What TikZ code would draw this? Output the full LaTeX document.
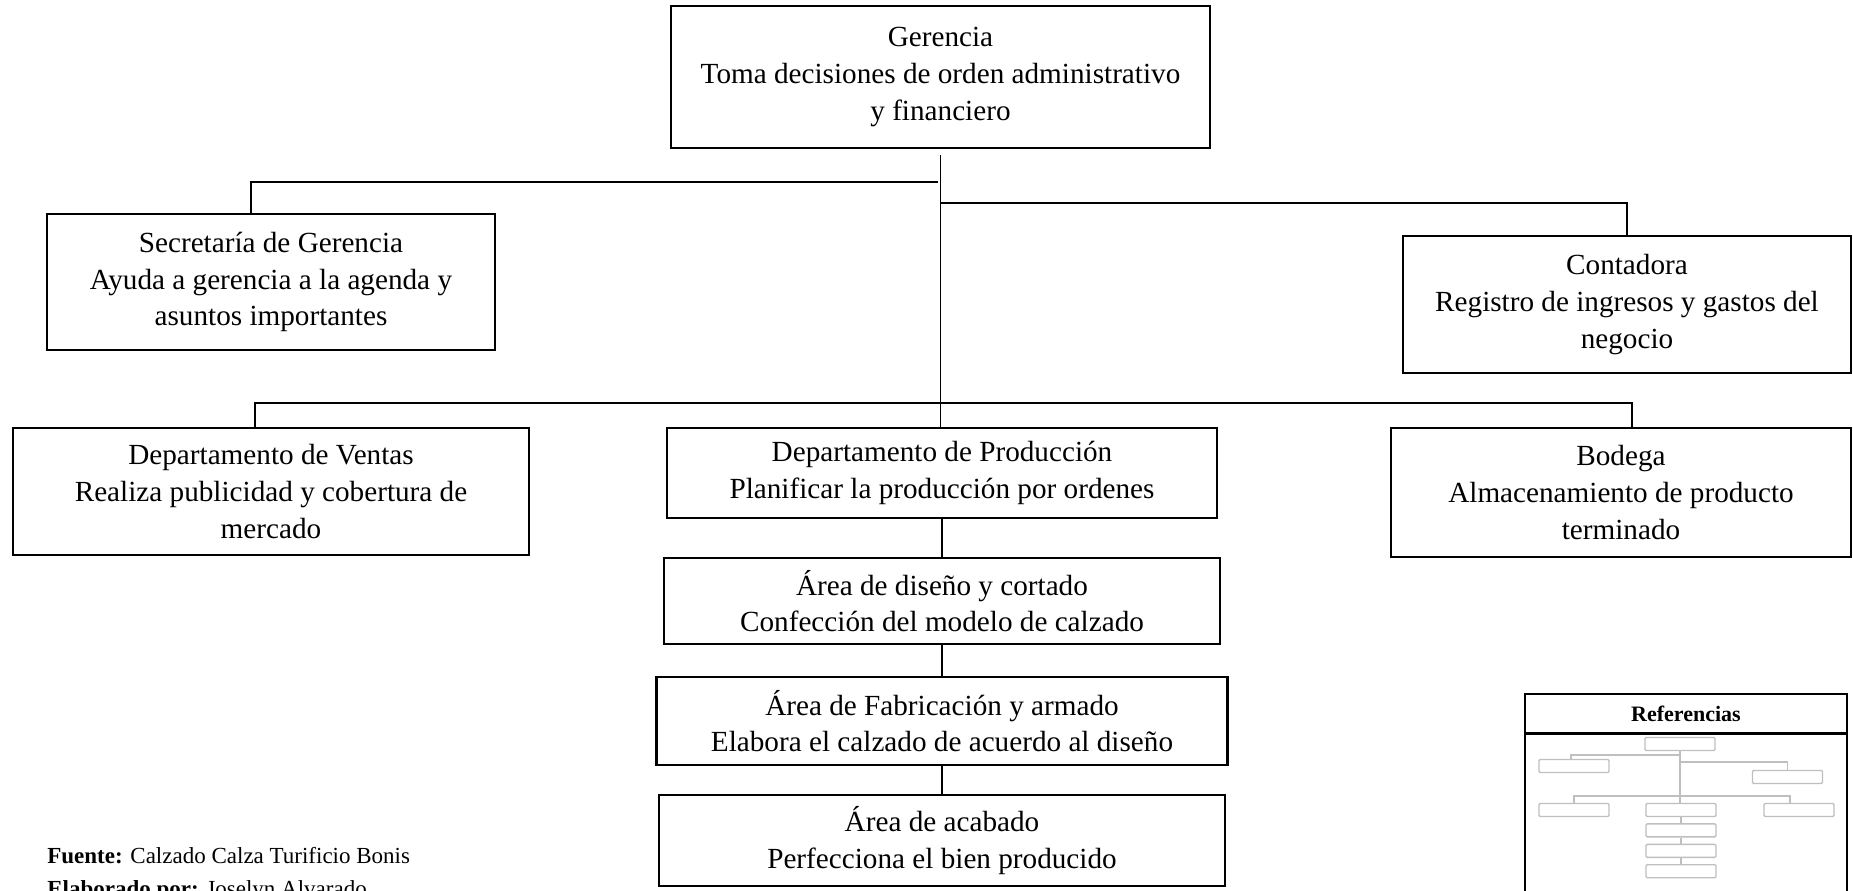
\documentclass[tikz,border=0pt]{standalone}
\usepackage{fontspec}
\setmainfont{Liberation Serif}
\usetikzlibrary{positioning}
\tikzset{node distance=18.8pt, % Gap between the boxes of the production chain
unidad/.style={ % Sets the properties for each box of the chart
draw,
line width=1.2pt,
align=center,
inner sep=0pt},
enlace/.style={ % Sets the properties for each connector
draw,
line width=0.6pt},
mini/.style={ % Small boxes of the legend
draw=gray!50,
line width=0.7pt,
rounded corners=0.6pt,
minimum width=35pt,
minimum height=6.5pt,
inner sep=0pt},
minienlace/.style={draw=gray!50, line width=0.7pt},
nota/.style={anchor=base west, inner sep=0pt, font=\fontsize{11.5}{16}\selectfont}}

\begin{document}
\begin{tikzpicture}[x=0.5pt,y=-0.5pt,font=\fontsize{14.6}{18.3}\selectfont]
  \useasboundingbox (0,0) rectangle (1853,890);
  \node[unidad,minimum width=269.5pt,minimum height=71pt] (gerencia) at (940.5,77)
    {Gerencia\\Toma decisiones de orden administrativo\\y financiero};
  \node[unidad,minimum width=224pt,minimum height=68pt] (secretaria) at (271,282)
    {Secretaría de Gerencia\\Ayuda a gerencia a la agenda y\\asuntos importantes};
  \node[unidad,minimum width=224pt,minimum height=68.5pt] (contadora) at (1627,304.5)
    {Contadora\\Registro de ingresos y gastos del\\negocio};
  \node[unidad,minimum width=258pt,minimum height=63.5pt] (ventas) at (271,491.5)
    {Departamento de Ventas\\Realiza publicidad y cobertura de\\mercado};
  \node[unidad,minimum width=275pt,minimum height=45pt] (produccion) at (942,473)
    {Departamento de Producción\\Planificar la producción por ordenes};
  \node[unidad,minimum width=230pt,minimum height=64.5pt] (bodega) at (1621,492.5)
    {Bodega\\Almacenamiento de producto\\terminado};
  \node[unidad,minimum width=278pt,minimum height=43pt] (diseno) [below=of produccion]
    {Área de diseño y cortado\\Confección del modelo de calzado};
  \node[unidad,minimum width=285.5pt,minimum height=44pt] (fabricacion) [below=15.3pt of diseno]
    {Área de Fabricación y armado\\Elabora el calzado de acuerdo al diseño};
  \node[unidad,minimum width=283pt,minimum height=45.5pt] (acabado) [below=13.9pt of fabricacion]
    {Área de acabado\\Perfecciona el bien producido};

  % connectors
  \coordinate (tronco1) at (938,182);
  \coordinate (tronco2) at (940,203);
  \coordinate (tronco3) at (938,403);
  \draw[enlace] ([yshift=-3pt]gerencia.south) -- (gerencia.south |- produccion.north);
  \draw[enlace] (tronco1) -| ([xshift=-10pt]secretaria.north);
  \draw[enlace] (tronco2) -| (contadora.north);
  \draw[enlace] ([xshift=-8pt]ventas.north) |- (tronco3) -| ([xshift=5.5pt]bodega.north);
  \draw[enlace] (produccion) -- (diseno) -- (fabricacion) -- (acabado);

  % source notes
  \node[nota] (fuente) at (47,863) {\textbf{Fuente:} Calzado Calza Turificio Bonis};
  \node[nota] (elaborado) at (47,896) {\textbf{Elaborado por:} Joselyn Alvarado};

  % legend
  \node[draw,line width=0.8pt,minimum width=161pt,minimum height=19.5pt,inner sep=0pt,
        font=\fontsize{11}{13}\selectfont] (referencias) at (1686,713.5) {\textbf{Referencias}};
  \node[draw,line width=0.8pt,minimum width=161pt,minimum height=85pt,inner sep=0pt,
        below=0pt of referencias] (leyenda) {};
  \node[mini] (m0) at (1680,744) {};
  \node[mini] (m1) at (1574,766) {};
  \node[mini] (m2) at (1787.5,777) {};
  \node[mini] (m3) at (1574,810) {};
  \node[mini] (m4) at (1681,810) {};
  \node[mini] (m5) at (1799,810) {};
  \node[mini] (m6) [below=3pt of m4] {};
  \node[mini] (m7) [below=3pt of m6] {};
  \node[mini] (m8) [below=3pt of m7] {};
  \coordinate (j1) at (1680,755);
  \coordinate (j2) at (1680,762);
  \coordinate (j3) at (1680,796);
  \draw[minienlace] (m0.south) -- (m0.south |- m4.north);
  \draw[minienlace] (j1) -| ([xshift=-1.5pt]m1.north);
  \draw[minienlace] (j2) -| (m2.north);
  \draw[minienlace] (m3.north) |- (j3) -| ([xshift=-4.5pt]m5.north);
  \draw[minienlace] (m4) -- (m6) -- (m7) -- (m8);
\end{tikzpicture}
\end{document}
